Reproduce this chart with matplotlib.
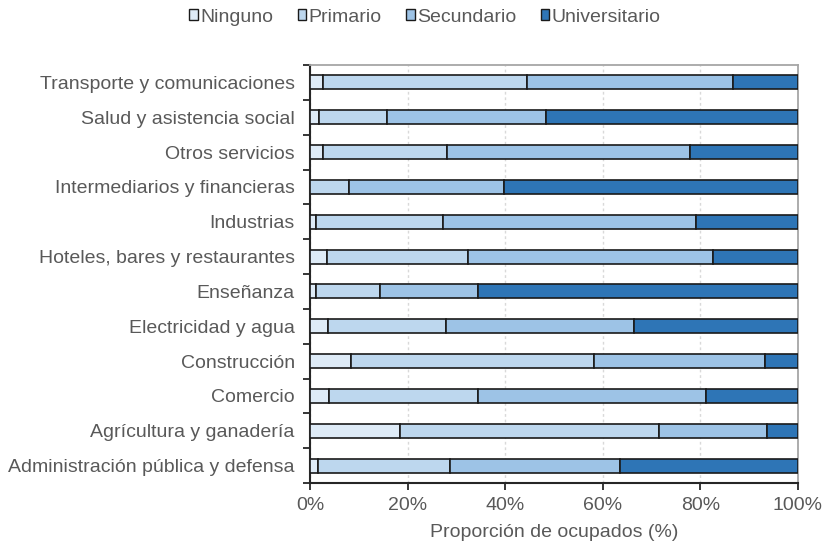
import numpy as np
import matplotlib
matplotlib.use("Agg")
import matplotlib.pyplot as plt
from matplotlib.patches import Patch
from matplotlib.ticker import FuncFormatter

plt.rcParams['font.family'] = ['Liberation Sans', 'DejaVu Sans']

sectores = ["Administración pública y defensa", "Agrícultura y ganadería", "Comercio",
            "Construcción", "Electricidad y agua", "Enseñanza",
            "Hoteles, bares y restaurantes", "Industrias", "Intermediarios y financieras",
            "Otros servicios", "Salud y asistencia social", "Transporte y comunicaciones"]
niveles = ["Ninguno", "Primario", "Secundario", "Universitario"]

ninguno = [1.6, 18.4, 3.8, 8.4, 3.6, 1.3, 3.5, 1.3, 0.0, 2.6, 1.8, 2.6]
primario = [27.1, 53.2, 30.7, 49.7, 24.3, 13.1, 28.9, 25.9, 8.0, 25.5, 13.9, 41.8]
secundario = [34.9, 22.0, 46.6, 35.1, 38.4, 20.1, 50.1, 51.9, 31.8, 49.8, 32.6, 42.2]
universitario = [36.4, 6.4, 18.9, 6.8, 33.7, 65.5, 17.5, 20.9, 60.2, 22.1, 51.7, 13.4]

colores = ["#deebf7", "#bdd7ee", "#9dc3e6", "#2e75b6"]
gris = "#595959"

fig = plt.figure(figsize=(8.23, 5.44), dpi=100)
ax = fig.add_axes([0.3767, 0.1121, 0.5929, 0.7684])

y = np.arange(len(sectores))
izq = np.zeros(len(sectores))
for vals, col in zip([ninguno, primario, secundario, universitario], colores):
    vals = np.array(vals)
    ax.barh(y, vals, left=izq, height=0.4, color=col, edgecolor="#1a1a1a", linewidth=1.2, zorder=3)
    izq += vals

ax.set_xlim(0, 100)
ax.set_ylim(-0.5, len(sectores) - 0.5)
ax.set_xticks(np.arange(0, 101, 20))
ax.xaxis.set_major_formatter(FuncFormatter(lambda v, p: f"{v:.0f}%"))
ax.set_yticks(y)
ax.set_yticklabels(sectores)
ax.set_yticks(np.arange(-0.5, len(sectores), 1), minor=True)
ax.tick_params(axis="y", which="major", length=0, labelsize=14, labelcolor=gris, pad=11)
ax.tick_params(axis="y", which="minor", length=5, width=1.3, color="#262626", direction="out")
ax.tick_params(axis="x", length=5, width=1.3, color="#262626", labelsize=14, labelcolor=gris, pad=5)

ax.grid(axis="x", color="#d9d9d9", linestyle=(0, (2, 2)), linewidth=1, zorder=0)
for s in ["top", "right"]:
    ax.spines[s].set_color("#a6a6a6")
    ax.spines[s].set_linewidth(1.3)
for s in ["left", "bottom"]:
    ax.spines[s].set_color("#262626")
    ax.spines[s].set_linewidth(1.5)

ax.set_xlabel("Proporción de ocupados (%)", fontsize=14, color=gris, labelpad=7)

handles = [Patch(facecolor=c, edgecolor="#1a1a1a", linewidth=1) for c in colores]
fig.legend(handles, niveles, loc="center", bbox_to_anchor=(425 / 823, 1 - 17 / 544), ncol=4,
           frameon=False, fontsize=14, labelcolor=gris, handlelength=0.45, handleheight=0.45,
           handletextpad=0.12, columnspacing=1.25)

fig.savefig("out.png", dpi=100)
